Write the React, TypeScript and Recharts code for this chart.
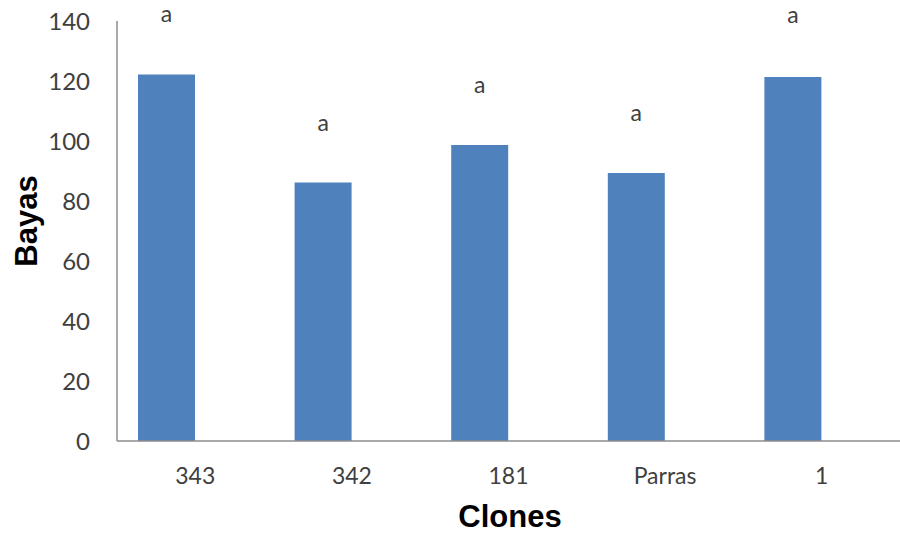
import { BarChart, Bar, XAxis, YAxis, LabelList } from 'recharts';

const clones = ['343', '342', '181', 'Parras', '1'];
const bayas = [122.2, 86.2, 98.7, 89.3, 121.3];
// where the significance letter sits, in axis units
const letterAt = [141.7, 105.3, 118, 108.7, 141.3];
const letters = ['a', 'a', 'a', 'a', 'a'];
const yTicks = [0, 20, 40, 60, 80, 100, 120, 140];

const BLUE = '#4F81BD';
const AXIS = '#8C8C8C';
const INK = '#404040';
const TICK_FONT = 'Lato, "Open Sans", sans-serif';

const data = clones.map((c, i) => ({
  clone: c,
  bayas: bayas[i],
  spacer: 0,
  letter: letters[i],
}));

function LetterLabel(props: any) {
  const { x, y, width, height, value, index } = props;
  const scale = height / bayas[index];
  const cy = y + height - letterAt[index] * scale;
  return (
    <text
      x={x + width / 2}
      y={cy}
      dy={6}
      textAnchor="middle"
      fill={INK}
      fontSize={23}
      fontFamily={TICK_FONT}
    >
      {value}
    </text>
  );
}

export default function App() {
  return (
    <div style={{ position: 'absolute', left: 0, top: 0, width: 900, height: 533, background: '#fff' }}>
      <BarChart
        width={900}
        height={533}
        data={data}
        margin={{ top: 21, right: 0, bottom: 62, left: 57 }}
        barGap={0}
      >
        <XAxis
          dataKey="clone"
          height={30}
          axisLine={{ stroke: AXIS, strokeWidth: 1.5 }}
          tickLine={false}
          tickSize={0}
          tickMargin={27}
          tick={{ fill: INK, fontSize: 23, fontFamily: TICK_FONT }}
          interval={0}
        />
        <YAxis
          width={60}
          domain={[0, 140]}
          ticks={yTicks}
          axisLine={{ stroke: AXIS, strokeWidth: 1.5 }}
          tickLine={false}
          tickSize={0}
          tickMargin={27}
          tick={{ fill: INK, fontSize: 24, fontFamily: TICK_FONT }}
        />
        <Bar dataKey="bayas" fill={BLUE} barSize={57} isAnimationActive={false}>
          <LabelList dataKey="letter" content={LetterLabel} />
        </Bar>
        <Bar dataKey="spacer" fill="none" barSize={57} isAnimationActive={false} />
      </BarChart>
      <div
        style={{
          position: 'absolute',
          left: 27,
          top: 221,
          transform: 'translate(-50%, -50%) rotate(-90deg)',
          fontFamily: 'Arial, "Liberation Sans", sans-serif',
          fontWeight: 'bold',
          fontSize: 31,
          color: '#000',
          whiteSpace: 'nowrap',
        }}
      >
        Bayas
      </div>
      <div
        style={{
          position: 'absolute',
          left: 510,
          top: 517,
          transform: 'translate(-50%, -50%)',
          fontFamily: 'Arial, "Liberation Sans", sans-serif',
          fontWeight: 'bold',
          fontSize: 31,
          color: '#000',
          whiteSpace: 'nowrap',
        }}
      >
        Clones
      </div>
    </div>
  );
}
